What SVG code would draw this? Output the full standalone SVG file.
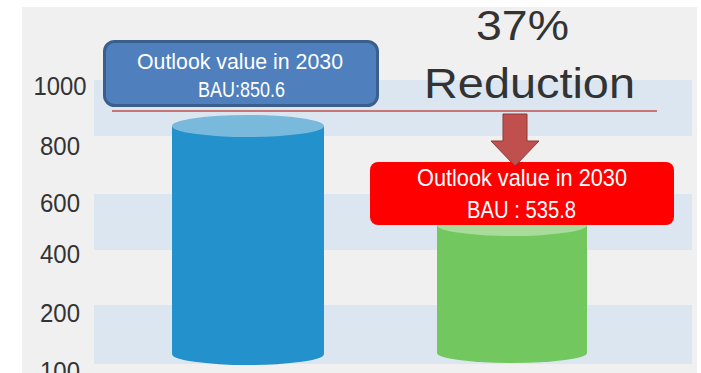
<svg xmlns="http://www.w3.org/2000/svg" width="701" height="373" viewBox="0 0 701 373">
<style>
.axis{font-family:"Liberation Sans",Arial,sans-serif;font-size:26px;fill:#333333;text-anchor:middle}
.band{fill:#dce6f1}
.boxtxt{font-family:"Liberation Sans",Arial,sans-serif;font-size:22px;fill:#ffffff;text-anchor:middle}
.big{font-family:"Liberation Sans",Arial,sans-serif;font-size:43px;fill:#333333;text-anchor:middle}
</style>
<rect x="0" y="0" width="701" height="373" fill="#ffffff"/>
<g id="chart-bg">
<rect x="22" y="7" width="675" height="366" fill="#f0f0f0"/>
<rect class="band" x="94" y="80" width="598" height="56"/>
<rect class="band" x="94" y="194" width="598" height="56"/>
<rect class="band" x="94" y="305" width="598" height="59"/>
</g>
<g id="axis-labels">
<text class="axis" x="60" y="95" textLength="53" lengthAdjust="spacingAndGlyphs">1000</text>
<text class="axis" x="60" y="155" textLength="40" lengthAdjust="spacingAndGlyphs">800</text>
<text class="axis" x="60" y="212" textLength="40" lengthAdjust="spacingAndGlyphs">600</text>
<text class="axis" x="60" y="263" textLength="40" lengthAdjust="spacingAndGlyphs">400</text>
<text class="axis" x="60" y="322" textLength="40" lengthAdjust="spacingAndGlyphs">200</text>
<text class="axis" x="60" y="380" textLength="40" lengthAdjust="spacingAndGlyphs">100</text>
</g>
<g id="bar-bau">
<path d="M172,126 L172,354 A76,11 0 0 0 324,354 L324,126 Z" fill="#2291cc"/>
<ellipse cx="248" cy="126" rx="76" ry="11" fill="#78b9dc"/>
</g>
<g id="bar-target">
<path d="M437,225 L437,353 A75,10 0 0 0 587,353 L587,225 Z" fill="#72c85e"/>
<ellipse cx="512" cy="225" rx="75" ry="11" fill="#a9dc9a"/>
</g>
<g id="box-bau">
<rect x="104.5" y="41.5" width="273" height="64" rx="10" fill="#4f7fbd" stroke="#3b5f8c" stroke-width="3"/>
<text class="boxtxt" x="240" y="69" textLength="206" lengthAdjust="spacingAndGlyphs">Outlook value in 2030</text>
<text class="boxtxt" x="241.5" y="97" textLength="87" lengthAdjust="spacingAndGlyphs">BAU:850.6</text>
</g>
<g id="box-target">
<rect x="370" y="162" width="304" height="63" rx="8" fill="#ff0000"/>
<text class="boxtxt" x="522" y="186" style="font-size:24px" textLength="210" lengthAdjust="spacingAndGlyphs">Outlook value in 2030</text>
<text class="boxtxt" x="521.5" y="218" style="font-size:23px" textLength="109" lengthAdjust="spacingAndGlyphs">BAU : 535.8</text>
</g>
<g id="reduction-label">
<text class="big" x="522.5" y="40" textLength="93" lengthAdjust="spacingAndGlyphs">37%</text>
<text class="big" x="529.5" y="98" textLength="211" lengthAdjust="spacingAndGlyphs">Reduction</text>
</g>
<g id="connectors">
<line x1="112" y1="111" x2="657" y2="111" stroke="#c0504d" stroke-width="1.6"/>
<path d="M503,114 L527,114 L527,141 L539,141 L515,166 L491,141 L503,141 Z" fill="#c0504d" stroke="#8c3836" stroke-width="1"/>
</g>
</svg>
